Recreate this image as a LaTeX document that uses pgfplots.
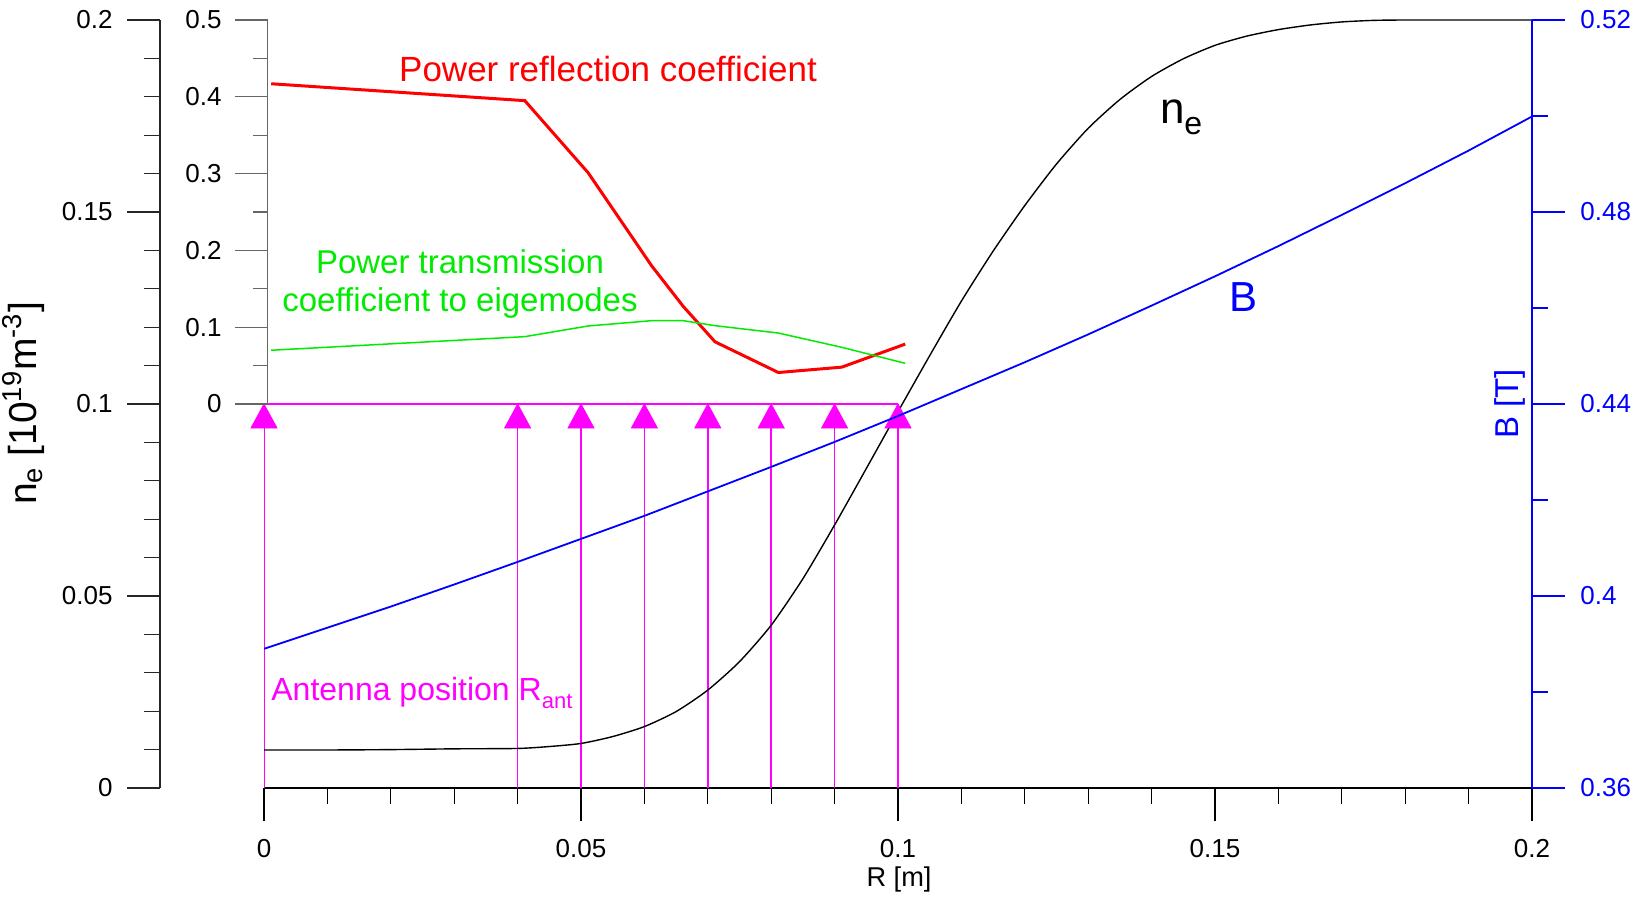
\documentclass[border=0pt]{standalone}
\usepackage{fontspec}
\setmainfont{Liberation Sans}
\usepackage{pgfplots}
\pgfplotsset{compat=1.18}

\definecolor{antmag}{RGB}{255,0,255}
\definecolor{refred}{RGB}{255,0,0}
\definecolor{transgreen}{RGB}{0,235,0}
\definecolor{fieldblue}{RGB}{0,0,255}

\newcommand\tickfont{\fontsize{13}{13}\selectfont}

% antenna marker: filled triangle whose apex sits on the data point
\pgfdeclareplotmark{antenna}{%
  \pgfpathmoveto{\pgfqpoint{0pt}{0pt}}%
  \pgfpathlineto{\pgfqpoint{-6.5pt}{-12pt}}%
  \pgfpathlineto{\pgfqpoint{6.5pt}{-12pt}}%
  \pgfpathclose
  \pgfusepathqfillstroke
}

\pgfplotsset{
  common/.style={
    scale only axis, anchor=south west,
    major tick length=16.5pt, minor tick length=8pt,
    /pgf/number format/assume math mode=true,
    ticklabel style={font=\tickfont},
  },
}

\begin{document}
\begin{tikzpicture}

% ---- main axis: R and electron density ----
\begin{axis}[common,
  at={(0pt,0pt)}, width=634pt, height=384pt,
  xmin=0, xmax=0.2, ymin=0, ymax=0.2,
  axis x line=bottom, axis y line=none,
  tick align=outside, xtick align=outside,
  axis line style={-, black, line width=0.7pt},
  xtick={0,0.05,0.1,0.15,0.2}, xticklabels={0,0.05,0.1,0.15,0.2},
  minor x tick num=4,
  x tick style={black, line width=0.6pt},
  xticklabel style={yshift=-5.7pt},
]
% antenna positions
\addplot[antmag, line width=0.75pt, ycomb, mark=none] coordinates {
  (0,0.1) (0.04,0.1) (0.05,0.1) (0.06,0.1) (0.07,0.1) (0.08,0.1) (0.09,0.1) (0.1,0.1)};
\addplot[antmag, line width=0.75pt, mark=none] coordinates {(0,0.1) (0.1,0.1)};
\addplot[only marks, mark=antenna, mark options={draw=antmag, fill=antmag, line width=0.4pt}]
  coordinates {(0,0.1) (0.04,0.1) (0.05,0.1) (0.06,0.1) (0.07,0.1) (0.08,0.1) (0.09,0.1) (0.1,0.1)};
% electron density profile
\addplot[black, line width=0.7pt, mark=none, smooth, tension=0.4] coordinates {
  (0,0.0099) (0.01,0.0099) (0.02,0.0100) (0.03,0.0102) (0.04,0.0103)
  (0.045,0.0108) (0.05,0.0116) (0.055,0.0134) (0.06,0.0160) (0.065,0.0199)
  (0.07,0.0255) (0.075,0.0329) (0.08,0.0424) (0.085,0.0545) (0.09,0.0685)
  (0.095,0.0832) (0.10,0.0980) (0.105,0.1126) (0.11,0.1268) (0.115,0.1398)
  (0.12,0.1517) (0.125,0.1625) (0.13,0.1718) (0.135,0.1793) (0.14,0.1853)
  (0.145,0.1899) (0.15,0.1934) (0.155,0.1958) (0.16,0.1975) (0.165,0.1987)
  (0.17,0.1995) (0.175,0.1999) (0.18,0.2000) (0.19,0.2000) (0.2,0.2000)};
\end{axis}

% ---- left scale for the density ----
\begin{axis}[common,
  at={(-52pt,0pt)}, width=10pt, height=384pt,
  xmin=0, xmax=1, ymin=0, ymax=0.2,
  axis x line=none, axis y line=left,
  tick align=outside, ytick align=outside,
  axis line style={-, black!85, line width=0.8pt},
  ytick={0,0.05,0.1,0.15,0.2}, yticklabels={0,0.05,0.1,0.15,0.2},
  minor y tick num=4,
  y tick style={black!85, line width=0.6pt},
  yticklabel style={xshift=-3.7pt},
]
\end{axis}

% ---- reflection / transmission coefficients ----
\begin{axis}[common,
  at={(1.8pt,192pt)}, width=634pt, height=192pt,
  xmin=-0.000568, xmax=0.199432, ymin=0, ymax=0.5,
  axis x line=none, axis y line=left,
  tick align=outside, ytick align=outside,
  axis line style={-, black!60, line width=0.6pt},
  ytick={0,0.1,0.2,0.3,0.4,0.5}, yticklabels={0,0.1,0.2,0.3,0.4,0.5},
  minor y tick num=1, minor tick length=7.5pt,
  y tick style={black!60, line width=0.6pt},
  yticklabel style={xshift=-3pt},
  clip=false,
]
\addplot[refred, line width=1.5pt, mark=none] coordinates {
  (0,0.417) (0.04,0.395) (0.05,0.301) (0.06,0.180) (0.065,0.127)
  (0.07,0.081) (0.08,0.041) (0.09,0.048) (0.1,0.078)};
\addplot[transgreen, line width=0.75pt, mark=none] coordinates {
  (0,0.070) (0.04,0.0877) (0.05,0.1016) (0.06,0.1085) (0.065,0.1085)
  (0.07,0.102) (0.08,0.0924) (0.09,0.0738) (0.1,0.053)};
\end{axis}

% ---- magnetic field, right scale ----
\begin{axis}[common,
  at={(0pt,0pt)}, width=634pt, height=384pt,
  xmin=0, xmax=0.2, ymin=0.36, ymax=0.52,
  axis x line=none, axis y line=right,
  tick align=outside, ytick align=outside,
  axis line style={-, fieldblue, line width=0.7pt},
  ytick={0.36,0.4,0.44,0.48,0.52}, yticklabels={0.36,0.4,0.44,0.48,0.52},
  minor y tick num=1,
  y tick style={fieldblue, line width=0.6pt},
  yticklabel style={fieldblue, xshift=4.2pt},
]
\addplot[fieldblue, line width=0.9pt, mark=none] coordinates {
  (0,0.3890) (0.01,0.3934) (0.02,0.3978) (0.03,0.4024) (0.04,0.4071)
  (0.05,0.4119) (0.06,0.4167) (0.07,0.4218) (0.08,0.4269) (0.09,0.4321)
  (0.10,0.4375) (0.11,0.4431) (0.12,0.4487) (0.13,0.4545) (0.14,0.4605)
  (0.15,0.4666) (0.16,0.4729) (0.17,0.4794) (0.18,0.4860) (0.19,0.4928)
  (0.20,0.4999)};
\end{axis}

% ---- labels ----
\node[rotate=90, anchor=base, inner sep=0pt, font=\fontsize{19.5}{19.5}\selectfont]
  at (-113.75pt,192.25pt) {n\textsubscript{e} [10\textsuperscript{19}m\textsuperscript{-3}]};
\node[rotate=90, anchor=base, inner sep=0pt, fieldblue, font=\fontsize{16.5}{16.5}\selectfont]
  at (627.15pt,192pt) {B [T]};
\node[anchor=base, inner sep=0pt, font=\fontsize{13.6}{13.6}\selectfont]
  at (317.5pt,-49pt) {R [m]};
\node[anchor=base, inner sep=0pt, refred, font=\fontsize{17.5}{17.5}\selectfont]
  at (172pt,353.15pt) {Power reflection coefficient};
\node[anchor=base, inner sep=0pt, transgreen, font=\fontsize{16.5}{16.5}\selectfont]
  at (98pt,257.35pt) {Power transmission};
\node[anchor=base, inner sep=0pt, transgreen, font=\fontsize{16.5}{16.5}\selectfont]
  at (98pt,238.15pt) {coefficient to eigemodes};
\node[anchor=base west, inner sep=0pt, antmag, font=\fontsize{16}{16}\selectfont]
  at (3.5pt,44pt) {Antenna position R\raisebox{-4pt}{\fontsize{11}{11}\selectfont ant}};
\node[anchor=base west, inner sep=0pt, font=\fontsize{22}{22}\selectfont]
  at (447.8pt,332pt) {n\raisebox{-5.5pt}{\fontsize{16}{16}\selectfont e}};
\node[anchor=base west, inner sep=0pt, fieldblue, font=\fontsize{21}{21}\selectfont]
  at (482.5pt,238.5pt) {B};

\pgfresetboundingbox
\path[use as bounding box] (-132pt,-54pt) rectangle (686.5pt,394pt);
\end{tikzpicture}
\end{document}
